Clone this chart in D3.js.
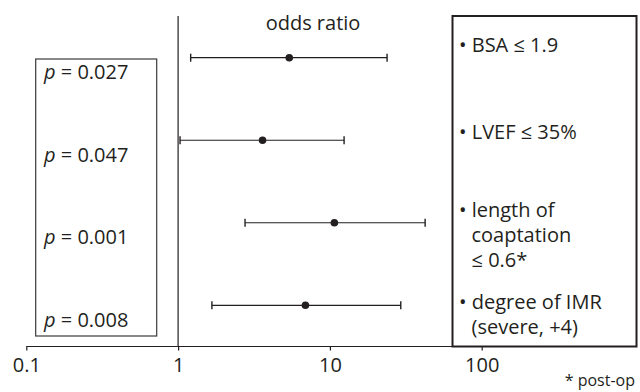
<!DOCTYPE html>
<html>
<head>
<meta charset="utf-8">
<script src="https://cdn.jsdelivr.net/npm/d3@7"></script>
<style>
  html, body { margin: 0; padding: 0; background: #fff; }
  svg { display: block; }
</style>
</head>
<body>
<div id="chart"></div>
<script>
// --- DATA ---
const factors = ["BSA", "LVEF", "coaptation", "IMR"];
const oddsRatio = [5.4, 3.6, 10.7, 6.9];
const ciLow = [1.21, 1.03, 2.76, 1.67];
const ciHigh = [23.8, 12.4, 42.4, 29.3];
const pValues = ["0.027", "0.047", "0.001", "0.008"];
const factorLines = [
  ["• BSA ≤ 1.9"],
  ["• LVEF ≤ 35%"],
  ["• length of", "  coaptation", "  ≤ 0.6*"],
  ["• degree of IMR", "  (severe, +4)"]
];
const tickValues = [0.1, 1, 10, 100];
const tickLabels = ["0.1", "1", "10", "100"];

// --- LAYOUT ---
const WIDTH = 640, HEIGHT = 392;
const INK = "#231f20";
const FONT = "'Open Sans', sans-serif";
const FS = 20;
const AXIS_Y = 346.5;
// first-line baseline of each factor label relative to its row
const LABEL_SHIFT = [-6, -1, -5.5, 4];

const x = d3.scaleLog().domain([0.1, 100]).range([26.3, 481.7]);
const y = d3.scalePoint().domain(factors).range([57.7, 305.3]);

const svg = d3.select("#chart").append("svg")
  .attr("width", WIDTH).attr("height", HEIGHT)
  .style("font-family", FONT);

// left box with p values
svg.append("rect")
  .attr("x", 35.7).attr("y", 59).attr("width", 121).attr("height", 277)
  .attr("fill", "none").attr("stroke", "#3a3a3a").attr("stroke-width", 1.2);

const pText = svg.selectAll(".pval").data(factors).join("text")
  .attr("x", 44).attr("y", (d) => y(d) + 21.5)
  .attr("font-size", FS).attr("fill", INK);
pText.append("tspan").attr("font-style", "italic").text("p");
pText.append("tspan").text((d, i) => " = " + pValues[i]);

// reference line at OR = 1
svg.append("line")
  .attr("x1", x(1)).attr("x2", x(1)).attr("y1", 16).attr("y2", AXIS_Y)
  .attr("stroke", INK).attr("stroke-width", 1.2);

svg.append("text")
  .attr("x", 313).attr("y", 30).attr("text-anchor", "middle")
  .attr("font-size", FS).attr("fill", INK).text("odds ratio");

// axis
svg.append("line")
  .attr("x1", x(0.1)).attr("x2", 452).attr("y1", AXIS_Y).attr("y2", AXIS_Y)
  .attr("stroke", INK).attr("stroke-width", 1.2);

const axis = d3.axisBottom(x).tickValues(tickValues)
  .tickFormat((d, i) => tickLabels[i]).tickSize(4).tickPadding(6);
const gAxis = svg.append("g").attr("transform", `translate(0,${AXIS_Y})`).call(axis);
gAxis.select(".domain").remove();
gAxis.selectAll(".tick line").attr("stroke", INK).attr("stroke-width", 1.2);
gAxis.selectAll(".tick text").attr("font-size", FS).attr("font-family", FONT)
  .attr("fill", INK).attr("dy", null).attr("y", 25.5);

// error bars
const bars = svg.selectAll(".bar").data(factors).join("g");
bars.append("line")
  .attr("x1", (d, i) => x(ciLow[i])).attr("x2", (d, i) => x(ciHigh[i]))
  .attr("y1", (d) => y(d)).attr("y2", (d) => y(d))
  .attr("stroke", INK).attr("stroke-width", 1.2);
bars.append("line")
  .attr("x1", (d, i) => x(ciLow[i])).attr("x2", (d, i) => x(ciLow[i]))
  .attr("y1", (d) => y(d) - 4).attr("y2", (d) => y(d) + 4)
  .attr("stroke", INK).attr("stroke-width", 1.4);
bars.append("line")
  .attr("x1", (d, i) => x(ciHigh[i])).attr("x2", (d, i) => x(ciHigh[i]))
  .attr("y1", (d) => y(d) - 4).attr("y2", (d) => y(d) + 4)
  .attr("stroke", INK).attr("stroke-width", 1.4);
bars.append("circle")
  .attr("cx", (d, i) => x(oddsRatio[i])).attr("cy", (d) => y(d))
  .attr("r", 3.8).attr("fill", INK);

// right box with factor descriptions
svg.append("rect")
  .attr("x", 452.5).attr("y", 16).attr("width", 184).attr("height", AXIS_Y - 16)
  .attr("fill", "#fff").attr("stroke", INK).attr("stroke-width", 2);

factors.forEach((f, i) => {
  const t = svg.append("text")
    .attr("font-size", FS).attr("fill", INK)
    .attr("y", y(f) + LABEL_SHIFT[i]);
  factorLines[i].forEach((line, j) => {
    const bullet = line.startsWith("•");
    t.append("tspan")
      .attr("x", bullet ? 459 : 471.5)
      .attr("y", y(f) + LABEL_SHIFT[i] + j * 25)
      .text(bullet ? line : line.trim());
  });
});

svg.append("text")
  .attr("x", 635).attr("y", 386).attr("text-anchor", "end")
  .attr("font-size", 16).attr("fill", INK).text("* post-op");
</script>
</body>
</html>
